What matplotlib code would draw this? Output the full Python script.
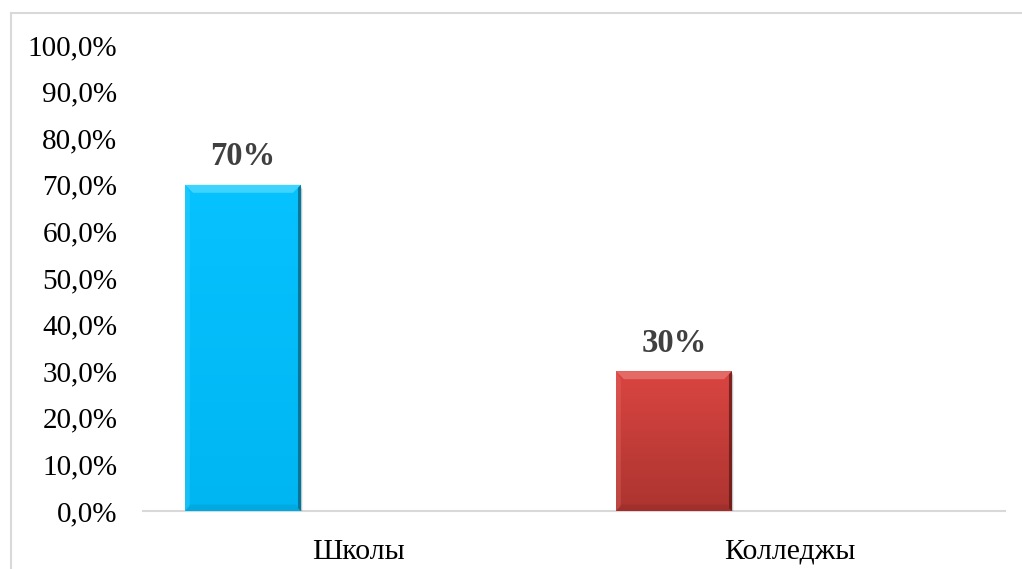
import matplotlib
matplotlib.use("Agg")
import matplotlib.pyplot as plt
import numpy as np
from matplotlib.patches import Polygon
from matplotlib.colors import LinearSegmentedColormap
from matplotlib.lines import Line2D

# --- data ---
categories = ["Школы", "Колледжы"]
shares = [0.70, 0.30]
value_labels = ["70%", "30%"]
bar_colors = [("#06C2FF", "#00B6F2"), ("#DA4541", "#AC3430")]   # (top, bottom) gradient
bevel_light = ["#4DD9FF", "#E87470"]
bevel_dark = ["#05607E", "#5E1816"]
ytick_values = [i / 10 for i in range(11)]
ytick_labels = [f"{v * 100:.1f}%".replace(".", ",") for v in ytick_values]

plt.rcParams["font.family"] = ["Liberation Serif", "DejaVu Serif"]

W, H = 1022, 569
fig = plt.figure(figsize=(W / 100, H / 100), dpi=100)
fig.patch.set_facecolor("white")

# chart-area border (left and top edges only)
fig.add_artist(Line2D([10.5 / W, 10.5 / W], [0, 1 - 13 / H], transform=fig.transFigure,
                      color="#D9D9D9", lw=1.5))
fig.add_artist(Line2D([10.5 / W, 1], [1 - 13 / H, 1 - 13 / H], transform=fig.transFigure,
                      color="#D9D9D9", lw=1.5))

ax_left, ax_right = 143 / W, 1005 / W
ax_bottom, ax_top = (H - 511) / H, (H - 45) / H
ax = fig.add_axes([ax_left, ax_bottom, ax_right - ax_left, ax_top - ax_bottom])

x = np.arange(len(categories))
width = 0.269
offset = -0.268  # first of three series slots in each category
bars = ax.bar(x + offset, shares, width=width, color="none", zorder=3)

ax.set_xlim(-0.5, len(categories) - 0.5)
ax.set_ylim(0, 1.0)

px_x = (len(categories)) / (1005 - 143)   # data units per pixel, x
px_y = 1.0 / (511 - 45)                    # data units per pixel, y

for i, rect in enumerate(bars):
    x0, y0 = rect.get_x(), rect.get_y()
    w, h = rect.get_width(), rect.get_height()
    x1, y1 = x0 + w, y0 + h
    # soft drop shadow
    for k, a in [(4, 0.06), (3, 0.08), (2, 0.10)]:
        ax.add_patch(plt.Rectangle((x0 + k * px_x * 0.5, y0 - k * px_y), w, h,
                                   color="#000000", alpha=a, zorder=2, lw=0))
    # gradient body
    cmap = LinearSegmentedColormap.from_list("g", [bar_colors[i][1], bar_colors[i][0]])
    grad = np.linspace(0, 1, 256).reshape(-1, 1)
    im = ax.imshow(grad, extent=(x0, x1, y0, y1), origin="lower", cmap=cmap,
                   aspect="auto", zorder=3)
    clip = plt.Rectangle((x0, y0), w, h, transform=ax.transData, fc="none", ec="none")
    ax.add_patch(clip)
    im.set_clip_path(clip)
    bx, by = 8 * px_x, 8 * px_y
    # top bevel (light)
    ax.add_patch(Polygon([(x0, y1), (x1, y1), (x1 - bx, y1 - by), (x0 + bx, y1 - by)],
                         closed=True, fc=bevel_light[i], ec="none", alpha=0.8, zorder=4))
    # left bevel (faint light)
    ax.add_patch(Polygon([(x0, y0), (x0, y1), (x0 + bx * 0.6, y1 - by),
                          (x0 + bx * 0.6, y0 + by * 0.6)],
                         closed=True, fc=bevel_light[i], ec="none", alpha=0.3, zorder=4))
    # bottom bevel (faint dark)
    ax.add_patch(Polygon([(x0, y0), (x1, y0), (x1 - bx * 0.6, y0 + by * 0.8),
                          (x0 + bx * 0.6, y0 + by * 0.8)],
                         closed=True, fc=bevel_dark[i], ec="none", alpha=0.15, zorder=4))
    # right edge (dark, narrow)
    ax.add_patch(Polygon([(x1, y1), (x1, y0), (x1 - 3 * px_x, y0 + 3 * px_y),
                          (x1 - 3 * px_x, y1 - 3 * px_y)],
                         closed=True, fc=bevel_dark[i], ec="none", alpha=0.75, zorder=4))

    ax.annotate(value_labels[i], (x0 + w / 2, y1), xytext=(0, 9), textcoords="offset points",
                ha="center", va="bottom", fontsize=23.5, fontweight="bold", color="#404040")

ax.set_xticks(x)
ax.set_xticklabels(categories, fontsize=21.5)
ax.set_yticks(ytick_values)
ax.set_yticklabels(ytick_labels, fontsize=21)
ax.tick_params(axis="both", length=0)
ax.tick_params(axis="y", pad=18.5)
ax.tick_params(axis="x", pad=20)

for s in ["left", "right", "top"]:
    ax.spines[s].set_visible(False)
ax.spines["bottom"].set_color("#D9D9D9")
ax.spines["bottom"].set_linewidth(1.5)
ax.spines["bottom"].set_zorder(1)

fig.savefig("out.png", dpi=100)
